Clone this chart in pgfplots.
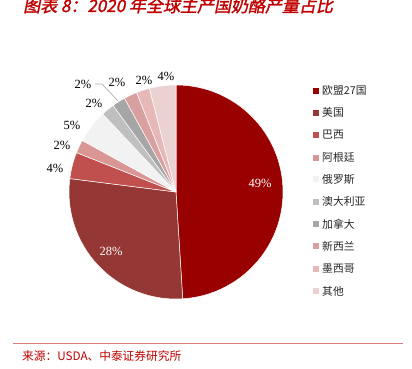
\documentclass[border=0pt]{standalone}
\usepackage{pgfplots}
\pgfplotsset{compat=1.18}
\usepackage{pgfplotstable}
\usepackage{fontspec}
\setmainfont{Liberation Serif}
\newfontfamily\cjk{Noto Sans CJK SC}
\newfontfamily\titlefont[FakeSlant=0.2,FakeBold=1.5]{Noto Sans CJK SC}
\definecolor{pie0}{HTML}{990000}
\definecolor{pie1}{HTML}{953735}
\definecolor{pie2}{HTML}{C0504D}
\definecolor{pie3}{HTML}{D99694}
\definecolor{pie4}{HTML}{F2F2F2}
\definecolor{pie5}{HTML}{BFBFBF}
\definecolor{pie6}{HTML}{A6A6A6}
\definecolor{pie7}{HTML}{D9A0A0}
\definecolor{pie8}{HTML}{E6B9B8}
\definecolor{pie9}{HTML}{EBD2D2}
\definecolor{titlered}{HTML}{C00000}
\definecolor{rulered}{HTML}{E07B7B}
\pgfplotstableread{
value
49
28
4
2
5
2
2
2
2
4
}\piedata
\begin{document}
\begin{tikzpicture}[x=1pt,y=1pt]
\path[use as bounding box] (0,0) rectangle (412,369);
\begin{axis}[at={(0,0)}, anchor=south west, x=1pt, y=1pt,
  xmin=0, xmax=412, ymin=0, ymax=369, hide axis, clip=false]
\def\cumstart{90}
\pgfplotsforeachungrouped \i in {0,...,9}{%
  \pgfplotstablegetelem{\i}{value}\of\piedata
  \pgfmathsetmacro\sweep{3.6*\pgfplotsretval}%
  \pgfmathsetmacro\cumend{\cumstart-\sweep}%
  \edef\cmd{\noexpand\fill[pie\i, draw=white, line width=0.5pt, line join=round] (axis cs:176,177) -- ++(\cumstart:107pt) arc[start angle=\cumstart, end angle=\cumend, radius=107pt] -- cycle;}%
  \cmd
  \global\let\cumstart\cumend
}
% percentage labels
\node[font=\fontsize{12.5}{14}\selectfont, text=white] at (axis cs:260,186) {49\%};
\node[font=\fontsize{12.5}{14}\selectfont, text=white] at (axis cs:111,118) {28\%};
\node[font=\fontsize{12.5}{14}\selectfont] at (axis cs:55,201) {4\%};
\node[font=\fontsize{12.5}{14}\selectfont] at (axis cs:62,224) {2\%};
\node[font=\fontsize{12.5}{14}\selectfont] at (axis cs:72,244) {5\%};
\node[font=\fontsize{12.5}{14}\selectfont] at (axis cs:94,266) {2\%};
\node[font=\fontsize{12.5}{14}\selectfont] at (axis cs:83,285) {2\%};
\node[font=\fontsize{12.5}{14}\selectfont] at (axis cs:117,287) {2\%};
\node[font=\fontsize{12.5}{14}\selectfont] at (axis cs:144,289) {2\%};
\node[font=\fontsize{12.5}{14}\selectfont] at (axis cs:166,293) {4\%};
\draw[gray!70, line width=0.6pt] (axis cs:95,285) -- (axis cs:102,285) -- (axis cs:118,268);
% legend
\fill[pie0] (axis cs:313,275.3) rectangle (axis cs:319,281.3);
\fill[pie1] (axis cs:313,253.3) rectangle (axis cs:319,259.3);
\fill[pie2] (axis cs:313,231.0) rectangle (axis cs:319,237.0);
\fill[pie3] (axis cs:313,208.3) rectangle (axis cs:319,214.3);
\fill[pie4] (axis cs:313,186.7) rectangle (axis cs:319,192.7);
\fill[pie5] (axis cs:313,164.3) rectangle (axis cs:319,170.3);
\fill[pie6] (axis cs:313,142.0) rectangle (axis cs:319,148.0);
\fill[pie7] (axis cs:313,120.0) rectangle (axis cs:319,126.0);
\fill[pie8] (axis cs:313,97.0) rectangle (axis cs:319,103.0);
\fill[pie9] (axis cs:313,75.0) rectangle (axis cs:319,81.0);
\begin{scope}[every node/.style={anchor=west, inner sep=0pt, text=black!85, font=\cjk\fontsize{10.8}{12}\selectfont}]
\node at (axis cs:322,278.3) {欧盟27国};
\node at (axis cs:322,256.3) {美国};
\node at (axis cs:322,234.0) {巴西};
\node at (axis cs:322,211.3) {阿根廷};
\node at (axis cs:322,189.7) {俄罗斯};
\node at (axis cs:322,167.3) {澳大利亚};
\node at (axis cs:322,145.0) {加拿大};
\node at (axis cs:322,123.0) {新西兰};
\node at (axis cs:322,100.0) {墨西哥};
\node at (axis cs:322,78.0) {其他};
\end{scope}
% title, rule and source
\node[anchor=base west, inner sep=0pt, text=titlered, font=\titlefont\fontsize{17}{18}\selectfont] at (axis cs:23,357) {图表 8：2020 年全球主产国奶酪产量占比};
\draw[rulered, line width=0.8pt] (axis cs:13,26) -- (axis cs:403,26);
\node[anchor=base west, inner sep=0pt, text=titlered, font=\cjk\fontsize{11.7}{13}\selectfont] at (axis cs:22,8) {来源：USDA、中泰证券研究所};
\end{axis}
\end{tikzpicture}
\end{document}
